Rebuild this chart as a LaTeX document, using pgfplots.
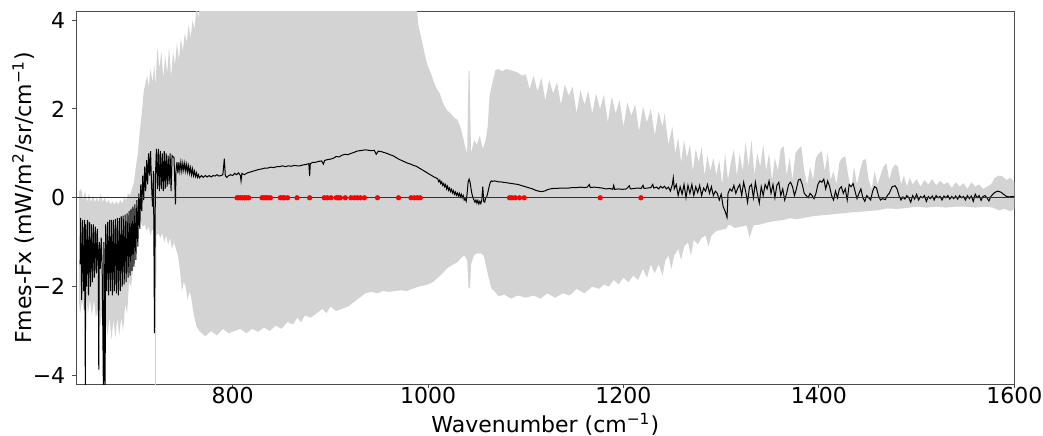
\documentclass[border=0pt]{standalone}
\usepackage{fontspec}
\setmainfont{DejaVu Sans}
\usepackage{pgfplots}
\pgfplotsset{compat=1.18}
\definecolor{mplgray}{RGB}{211,211,211}
\begin{document}
\begin{tikzpicture}
\begin{axis}[
  scale only axis,
  width=469pt, height=186.5pt,
  xmin=640, xmax=1600, ymin=-4.2, ymax=4.2,
  xtick={800,1000,1200,1400,1600},
  xticklabels={800,1000,1200,1400,1600},
  ytick={-4,-2,0,2,4},
  yticklabels={−4,−2,0,2,4},
  tick pos=left,
  tick align=outside,
  major tick length=2pt,
  /pgf/number format/assume math mode=true,
  tick label style={font=\fontsize{11}{13}\selectfont},
  xticklabel style={yshift=4pt},
  label style={font=\fontsize{11}{13}\selectfont},
  axis line style={black!70, line width=0.6pt},
  every tick/.style={black!70, line width=0.5pt},
  xlabel={Wavenumber (cm\textsuperscript{−1})},
  ylabel={Fmes-Fx (mW/m\textsuperscript{2}/sr/cm\textsuperscript{−1})},
  xlabel style={at={(axis description cs:0.5,-0.108)}, anchor=center},
  ylabel style={at={(axis description cs:-0.0565,0.5)}, anchor=center},
]
\coordinate (bl) at (rel axis cs:0,0);
\coordinate (tr) at (rel axis cs:1,1);
% envelope: upper left->right, then lower right->left
\addplot[fill=mplgray, draw=none] coordinates {
(643,0.15)(645,0.2)(647,-0.05)(649,0.15)(651,-0.1)(653,0.1)(655,-0.1)(657,0.05)(659,-0.1)(661,0.0)
(663,-0.1)(665,0.1)(667,-0.1)(669,0.0)(671,-0.12)(673,-0.05)(675,-0.15)(677,-0.08)(679,-0.15)(681,-0.08)
(683,-0.15)(685,-0.05)(687,-0.12)(689,0.0)(691,-0.05)(693,0.1)(695,0.05)(697,0.2)(699,0.35)(701,0.7)
(703,1.0)(705,1.5)(707,1.9)(709,2.4)(711,2.6)(712.5,2.75)(714,2.5)(716,2.9)(718,2.6)(720,3.0)
(721,2.5)(723,3.4)(725,2.9)(727,3.3)(729,2.7)(731,3.2)(733,2.8)(735,3.4)(737,2.7)(739,3.3)
(741,3.0)(743,3.5)(745,3.1)(747,3.6)(749,3.3)(751,3.7)(753,3.5)(755,3.9)(757,3.6)(759,4.0)
(761,3.8)(763,4.3)(765,4.05)(767,4.4)(988,4.4)(990,3.9)(992,3.7)(995,3.4)(998,3.1)(1000,2.95)
(1003,2.8)(1006,2.6)(1009,2.45)(1012,2.35)(1015,2.15)(1019,1.98)(1023,1.9)(1027,1.8)(1030,1.76)(1033,1.6)
(1036,1.35)(1038,1.15)(1040,1.0)(1041.5,2.85)(1042.5,2.85)(1044,1.0)(1047,1.3)(1050,1.2)(1053,1.4)(1056,1.1)
(1059,1.3)(1061,1.6)(1063,2.3)(1066,2.6)(1069,2.88)(1072,2.9)(1076,2.85)(1080,2.9)(1084,2.88)(1088,2.85)
(1092,2.82)(1096,2.75)(1100,2.78)(1104,2.45)(1108,2.75)(1112,2.4)(1116,2.7)(1120,2.2)(1124,2.65)(1128,2.35)
(1132,2.6)(1136,2.1)(1140,2.55)(1144,2.3)(1148,2.5)(1152,1.9)(1156,2.43)(1160,2.1)(1164,2.4)(1168,1.9)
(1172,2.35)(1176,2.0)(1180,2.32)(1184,1.7)(1188,2.28)(1192,1.9)(1196,2.2)(1200,1.6)(1204,2.15)(1208,1.85)
(1212,2.1)(1216,1.5)(1220,2.05)(1224,1.7)(1228,2.0)(1232,1.4)(1236,1.95)(1240,1.6)(1242,1.9)(1246,1.2)
(1250,1.6)(1253,1.0)(1256,1.35)(1259,0.8)(1262,1.3)(1265,0.9)(1268,1.2)(1271,0.6)(1274,1.1)(1277,0.8)
(1280,1.15)(1283,0.5)(1286,0.95)(1289,0.6)(1292,0.9)(1295,0.5)(1298,0.85)(1301,0.3)(1304,1.0)(1307,0.4)
(1310,0.8)(1313,1.1)(1316,0.5)(1319,1.0)(1322,0.6)(1325,1.25)(1328,0.7)(1331,1.3)(1334,0.5)(1337,1.0)
(1340,0.7)(1343,1.2)(1346,0.6)(1349,1.0)(1352,0.4)(1355,0.9)(1358,0.6)(1361,1.1)(1364,1.16)(1367,0.5)
(1370,0.9)(1373,0.4)(1376,1.0)(1379,1.1)(1382,1.16)(1385,0.6)(1388,0.3)(1391,0.7)(1394,0.4)(1397,0.9)
(1400,1.0)(1403,1.05)(1406,0.6)(1409,1.0)(1412,0.4)(1415,0.6)(1418,0.3)(1421,0.8)(1424,0.9)(1427,0.93)
(1430,0.5)(1433,0.2)(1436,0.7)(1439,0.3)(1442,0.6)(1445,0.85)(1448,0.87)(1451,0.4)(1454,0.2)(1457,0.6)
(1460,0.3)(1463,0.5)(1466,0.7)(1469,0.78)(1472,0.4)(1475,0.65)(1478,0.75)(1481,0.7)(1484,0.3)(1487,0.5)
(1490,0.25)(1493,0.45)(1496,0.3)(1500,0.42)(1504,0.25)(1508,0.4)(1512,0.3)(1516,0.42)(1520,0.28)(1524,0.38)
(1528,0.3)(1532,0.35)(1536,0.22)(1540,0.35)(1544,0.25)(1548,0.33)(1552,0.2)(1556,0.35)(1560,0.25)(1564,0.3)
(1568,0.2)(1572,0.25)(1576,0.3)(1580,0.45)(1584,0.5)(1588,0.48)(1592,0.4)(1596,0.45)(1600,0.35)
(1600,-0.25)(1596,-0.3)(1590,-0.25)(1584,-0.28)(1578,-0.22)(1570,-0.2)(1560,-0.22)(1550,-0.2)(1540,-0.2)(1530,-0.22)
(1520,-0.2)(1510,-0.22)(1500,-0.2)(1490,-0.23)(1480,-0.25)(1470,-0.24)(1460,-0.28)(1450,-0.3)(1440,-0.32)(1432,-0.33)
(1425,-0.35)(1418,-0.36)(1410,-0.38)(1400,-0.4)(1392,-0.42)(1385,-0.45)(1378,-0.48)(1370,-0.46)(1364,-0.5)(1356,-0.52)
(1348,-0.55)(1340,-0.6)(1333,-0.62)(1329,-0.9)(1326,-0.62)(1320,-0.65)(1314,-0.68)(1308,-0.6)(1305,-0.7)(1300,-0.72)
(1295,-0.75)(1290,-0.85)(1287,-1.1)(1284,-0.85)(1280,-0.9)(1276,-1.05)(1272,-0.95)(1269,-1.3)(1266,-1.0)(1262,-1.1)
(1259,-1.4)(1256,-1.15)(1252,-1.3)(1249,-1.6)(1246,-1.3)(1243,-1.4)(1240,-1.75)(1236,-1.5)(1232,-1.7)(1228,-1.5)
(1224,-1.8)(1220,-1.6)(1215,-1.85)(1210,-1.75)(1205,-1.9)(1200,-1.8)(1195,-1.95)(1190,-1.85)(1185,-2.0)(1180,-1.95)
(1175,-2.05)(1168,-2.0)(1160,-2.15)(1152,-2.05)(1145,-2.2)(1138,-2.15)(1130,-2.25)(1122,-2.15)(1115,-2.27)(1108,-2.2)
(1100,-2.25)(1092,-2.2)(1085,-2.27)(1078,-2.18)(1072,-2.22)(1068,-2.1)(1065,-2.05)(1062,-1.8)(1060,-1.6)(1057,-1.3)
(1054,-1.25)(1050,-1.25)(1047,-1.3)(1044,-1.5)(1043,-2.04)(1041.5,-2.04)(1040,-1.4)(1037,-1.3)(1034,-1.35)(1030,-1.45)
(1026,-1.5)(1022,-1.55)(1019,-1.6)(1015,-1.7)(1010,-1.8)(1005,-1.9)(1000,-1.95)(995,-1.98)(990,-2.0)(984,-2.05)
(978,-2.1)(972,-2.08)(966,-2.1)(960,-2.12)(954,-2.1)(948,-2.15)(942,-2.12)(936,-2.15)(930,-2.25)(924,-2.35)
(918,-2.45)(912,-2.5)(906,-2.55)(900,-2.45)(896,-2.6)(892,-2.5)(886,-2.6)(880,-2.7)(874,-2.65)(870,-2.8)
(866,-2.7)(862,-2.85)(856,-2.8)(850,-2.95)(844,-2.88)(838,-3.0)(832,-2.92)(826,-3.02)(820,-2.95)(814,-3.05)
(808,-2.95)(802,-3.0)(796,-3.05)(790,-2.95)(784,-3.1)(778,-3.0)(772,-3.12)(766,-3.0)(763,-2.9)(760,-2.6)
(758,-2.3)(756,-2.1)(754,-2.3)(752,-2.0)(750,-1.9)(748,-2.1)(746,-1.6)(744,-1.3)(742,-1.15)(740,-1.0)
(738,-1.15)(736,-0.9)(734,-1.05)(732,-0.85)(730,-1.0)(728,-0.8)(726,-0.9)(724,-0.8)(722,-0.85)(721.3,-4.5)
(720.5,-4.5)(720,-0.8)(718,-0.7)(716,-0.85)(714,-0.65)(712,-0.75)(710,-0.6)(708,-0.65)(706,-0.55)(704,-0.6)
(702,-0.7)(700,-1.2)(698,-1.6)(696,-2.0)(694,-1.9)(692,-2.6)(690,-2.4)(688,-3.0)(686,-2.7)(684,-3.1)
(682,-2.7)(680,-3.15)(678,-2.75)(676,-3.2)(674,-2.7)(672,-3.1)(670,-2.7)(668,-3.2)(666,-2.6)(664,-3.0)
(662,-2.5)(660,-2.7)(658,-2.3)(656,-2.65)(654,-2.3)(652,-2.6)(650,-2.2)(648,-2.6)(646,-2.3)(644,-2.6)(643,-2.4)
};
% black residual line
\addplot[black, line width=0.5pt] coordinates {
(644,-1.5)(644.5,-0.45)(645.5,-2.3)(646.5,-0.5)(647.5,-2.1)(648.5,-0.5)(649.3,-4.5)(649.6,-0.6)(650.5,-2.0)(651.5,-0.5)
(652.5,-2.2)(653.5,-0.55)(654.5,-2.0)(655.5,-0.6)(656.5,-1.9)(657.5,-0.6)(658.5,-1.8)(659.5,-0.65)(660.5,-1.7)(661.5,-0.7)
(662.5,-1.7)(663,-3.87)(663.5,-1.0)(664.5,-1.6)(665.5,-0.9)(666.5,-1.6)(667.8,-4.5)(668.3,-1.0)(669.5,-4.5)(670,-0.6)
(671,-2.1)(672,-0.55)(673,-2.2)(674,-0.5)(675,-2.1)(676,-0.5)(677,-2.2)(678,-0.5)(679,-2.1)(680,-0.48)
(681,-2.15)(682,-0.45)(683,-2.2)(684,-0.45)(685,-2.1)(686,-0.42)(687,-2.0)(688,-0.4)(689,-1.95)(690,-0.38)
(691,-1.9)(692,-0.35)(693,-1.8)(694,-0.3)(695,-1.75)(696,-0.25)(697,-1.65)(698,-0.2)(699,-1.55)(700,-0.15)
(701,-1.4)(702,-0.05)(703,-1.1)(704,0.1)(705,-0.7)(706,0.3)(707,-0.3)(708,0.5)(709,-0.05)(710,0.7)
(711,0.15)(712,0.85)(713,0.3)(714,1.0)(715,0.5)(716,1.05)(717,0.3)(718,-0.2)(719,0.6)(720,-3.05)
(721,0.5)(722,1.1)
(723,0.2)(724,1.1)(725,0.15)(726,1.05)(727,0.2)(728,1.0)(729,0.15)(730,1.05)(731,0.2)(732,1.0)
(733,0.25)(734,0.95)(735,0.3)(736,1.0)(737,0.15)(738,0.95)(740,0.9)(741.5,-0.15)(742,0.6)(743,0.8)
(744,0.55)(745,0.8)(746,0.6)(747,0.8)(748,0.6)(749,0.78)(750,0.62)(751,0.78)(752,0.6)(753,0.75)
(754,0.58)(755,0.72)(756,0.55)(757,0.68)(758,0.52)(759,0.65)(760,0.5)(761,0.6)(762,0.48)(763,0.56)
(764,0.46)(765,0.52)(766,0.45)(768,0.5)(770,0.46)(772,0.5)(774,0.47)(776,0.5)(778,0.47)(780,0.5)
(782,0.49)(784,0.52)(786,0.49)(788,0.5)(790,0.52)(791.5,0.88)(792.5,0.5)(794,0.46)(796,0.5)(798,0.52)
(800,0.5)(802,0.55)(804,0.52)(806,0.56)(808,0.5)(808.6,0.38)(809.5,0.55)(812,0.52)(815,0.56)(818,0.58)
(821,0.6)(824,0.62)(827,0.64)(830,0.65)(833,0.67)(836,0.67)(839,0.69)(842,0.68)(845,0.7)(848,0.7)
(851,0.72)(854,0.7)(857,0.72)(860,0.71)(863,0.73)(866,0.72)(869,0.72)(872,0.74)(875,0.75)(878,0.77)
(878.8,0.49)(879.5,0.77)(882,0.8)(885,0.8)(888,0.82)(891,0.83)(893,0.76)(894,0.84)(897,0.86)(900,0.87)
(903,0.89)(906,0.93)(909,0.92)(912,0.96)(915,0.98)(918,0.97)(921,1.0)(924,1.02)(927,1.05)(930,1.06)
(933,1.07)(936,1.08)(939,1.07)(942,1.06)(945,1.07)(947,0.98)(949,1.05)(952,1.04)(955,1.02)(958,1.0)
(961,0.97)(964,0.95)(967,0.91)(970,0.87)(973,0.84)(976,0.81)(979,0.78)(982,0.76)(985,0.73)(988,0.71)
(991,0.67)(994,0.63)(997,0.59)(1000,0.55)(1003,0.51)(1006,0.47)(1009,0.44)
(1010,0.42)(1011,0.36)(1012,0.4)(1013,0.32)(1014,0.36)(1015,0.28)(1016,0.32)(1017,0.25)(1018,0.3)(1019,0.2)
(1020,0.26)(1021,0.17)(1022,0.22)(1023,0.14)(1024,0.19)(1025,0.11)(1026,0.16)(1027,0.08)(1028,0.13)(1029,0.06)
(1030,0.11)(1031,0.04)(1032,0.1)(1033,0.02)(1034,0.08)(1035,0.0)(1036,0.05)(1037,-0.05)(1038,-0.02)(1039,-0.08)
(1040,0.1)(1041,0.35)(1042,0.42)(1043,0.35)(1044,0.2)(1045,0.08)(1046,0.0)(1047,-0.05)(1048,-0.1)(1049,-0.05)
(1050,-0.12)(1051,-0.06)(1052,-0.14)(1053,-0.08)(1054,-0.13)(1055,-0.05)(1056,0.25)(1057,-0.08)(1058,-0.1)(1059,0.0)
(1060,0.02)(1061,0.1)(1062,0.2)(1063,0.3)(1064,0.36)(1065,0.38)(1066,0.37)(1068,0.38)(1070,0.37)(1072,0.36)
(1074,0.36)(1077,0.35)(1080,0.34)(1083,0.33)(1086,0.32)(1089,0.31)(1092,0.3)(1095,0.28)(1098,0.26)(1101,0.24)
(1104,0.22)(1107,0.2)(1110,0.17)(1113,0.15)(1116,0.14)(1119,0.15)(1122,0.18)(1125,0.2)(1128,0.21)(1132,0.21)
(1136,0.22)(1140,0.22)(1144,0.22)(1148,0.23)(1152,0.23)(1156,0.24)(1160,0.23)(1163,0.24)(1165,0.3)(1166,0.23)
(1170,0.24)(1174,0.23)(1178,0.22)(1182,0.2)(1186,0.21)(1189,0.19)(1190,0.28)(1191,0.19)(1195,0.2)(1199,0.19)
(1203,0.2)(1206,0.27)(1207,0.2)(1211,0.21)(1215,0.22)(1218,0.21)(1220,0.28)(1221,0.21)(1225,0.22)(1228,0.23)
(1230,0.3)(1231,0.22)(1234,0.24)(1236,0.2)(1238,0.26)(1240,0.22)(1242,0.26)(1244,0.2)(1246,0.24)(1248,0.15)
(1250,0.3)(1251,0.45)(1252,0.2)(1254,0.3)(1256,0.05)(1258,0.25)(1260,0.08)(1262,0.3)(1264,0.0)(1266,0.28)
(1268,0.1)(1270,0.3)(1272,0.05)(1274,0.25)(1276,0.12)(1278,0.28)(1280,0.05)(1282,0.22)(1284,0.15)(1286,0.3)
(1288,0.1)(1290,0.25)(1292,0.05)(1294,0.15)(1296,0.1)(1298,-0.05)(1300,0.08)(1302,-0.2)(1304,-0.3)(1306,-0.44)
(1307,0.1)(1309,0.2)(1311,0.15)(1313,0.28)(1315,0.1)(1317,0.22)(1319,0.3)(1321,0.05)(1323,0.35)(1325,0.15)
(1327,-0.1)(1329,0.25)(1331,0.3)(1333,0.0)(1335,0.35)(1337,0.1)(1339,-0.12)(1341,0.25)(1343,0.05)(1345,0.3)
(1347,0.2)(1349,0.38)(1351,0.1)(1353,0.3)(1355,0.0)(1357,0.28)(1359,0.35)(1361,0.05)(1363,0.2)(1365,-0.05)
(1367,0.1)(1369,0.3)(1371,0.35)(1373,0.25)(1375,0.05)(1377,0.2)(1379,0.4)(1381,0.42)(1383,0.3)(1385,0.1)
(1387,0.05)(1389,0.0)(1391,0.1)(1393,0.05)(1395,-0.02)(1397,0.1)(1399,0.3)(1401,0.38)(1403,0.35)(1405,0.42)
(1407,0.2)(1409,0.38)(1411,0.25)(1413,0.05)(1415,-0.05)(1417,0.15)(1419,0.0)(1421,0.2)(1423,0.25)(1425,0.1)
(1427,0.2)(1429,-0.05)(1431,0.3)(1433,0.25)(1435,0.32)(1437,0.15)(1439,-0.02)(1441,0.1)(1443,0.2)(1445,0.0)
(1447,-0.08)(1449,0.05)(1451,0.0)(1453,-0.05)(1455,0.15)(1457,0.25)(1459,0.22)(1461,0.05)(1463,-0.05)(1465,-0.02)
(1468,-0.04)(1470,0.05)(1472,0.1)(1475,0.25)(1478,0.27)(1480,0.2)(1482,0.05)(1484,-0.05)(1486,0.02)(1488,-0.03)
(1490,0.05)(1492,0.0)(1494,-0.1)(1496,0.05)(1498,-0.03)(1500,0.08)(1502,-0.05)(1504,0.03)(1506,0.0)(1508,0.05)
(1510,-0.08)(1512,0.03)(1514,-0.02)(1516,0.04)(1518,-0.05)(1520,0.05)(1522,0.0)(1524,0.03)(1526,-0.05)(1528,0.04)
(1530,0.0)(1532,0.05)(1534,-0.03)(1536,0.03)(1538,-0.02)(1540,0.04)(1542,-0.03)(1544,0.05)(1546,0.0)(1548,0.03)
(1550,-0.05)(1552,0.05)(1554,-0.02)(1556,0.04)(1558,-0.08)(1560,0.08)(1562,0.0)(1564,0.05)(1566,-0.06)(1568,0.03)
(1570,0.05)(1572,0.0)(1574,-0.07)(1576,0.03)(1578,0.08)(1580,0.12)(1583,0.15)(1586,0.13)(1589,0.08)(1592,0.03)
(1595,0.02)(1598,0.03)(1600,0.02)
};
% zero line
\addplot[black!80, line width=0.5pt] coordinates {(640,0)(1600,0)};
% red points
\addplot[only marks, mark=*, mark size=1.1pt, color=red] coordinates {
(804.5,0)(806,0)(808,0)(810,0)(812,0)(814,0)(816.4,0)
(830,0)(832,0)(834,0)(836,0)(838.6,0)
(848.8,0)(851,0)(853,0)(856.3,0)
(865.9,0)(878.8,0)
(893.8,0)(896.9,0)(900.7,0)
(906.1,0)(908,0)(910.2,0)(915.3,0)
(921.1,0)(924.5,0)(927.6,0)(930.7,0)(934.8,0)
(948.3,0)(969.8,0)
(982.5,0)(985.9,0)(989,0)(992,0)
(1083.4,0)(1085.8,0)(1089.2,0)(1093.6,0)(1098.4,0)
(1176.2,0)(1217.8,0)
};
\end{axis}
\pgfresetboundingbox
\path ([xshift=-38.15pt,yshift=-25.85pt]bl) rectangle ([xshift=14.35pt,yshift=5.65pt]tr);
\end{tikzpicture}
\end{document}
